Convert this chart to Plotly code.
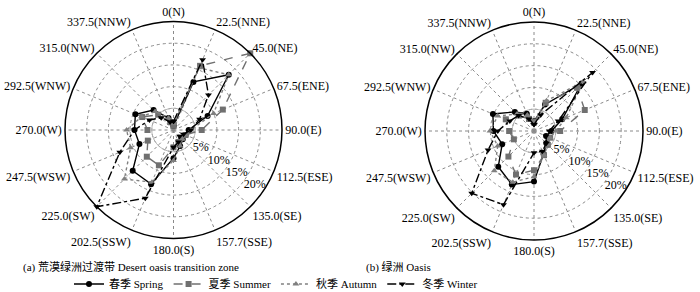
import plotly.graph_objects as go

directions = [0, 22.5, 45, 67.5, 90, 112.5, 135, 157.5, 180, 202.5, 225, 247.5, 270, 292.5, 315, 337.5]
dir_labels = ["0(N)", "22.5(NNE)", "45.0(NE)", "67.5(ENE)", "90.0(E)", "112.5(ESE)", "135.0(SE)",
              "157.7(SSE)", "180.0(S)", "202.5(SSW)", "225.0(SW)", "247.5(WSW)", "270.0(W)",
              "292.5(WNW)", "315.0(NW)", "337.5(NNW)"]
radial_ticks = [5, 10, 15, 20]
radial_labels = ["5%", "10%", "15%", "20%"]

# (a) Desert oasis transition zone
spring_a = [1, 12, 18, 8.5, 3.5, 3, 3, 4, 6.5, 13.5, 13.3, 8.5, 9, 9.5, 6.5, 3]
summer_a = [1, 16, 25, 12.3, 6.5, 3, 2.5, 3, 4, 8.8, 8.7, 6.4, 6, 7.8, 5, 2]
autumn_a = [1.5, 15.5, 18, 10, 4, 3, 3, 4, 7, 13, 16, 10.7, 10.8, 8, 6, 3]
winter_a = [2, 17.5, 11.4, 6.5, 4, 2.5, 2, 3, 4, 17, 25, 13.4, 9, 6, 4, 2]

# (b) Oasis
spring_b = [2.2, 6.6, 15.4, 7, 4, 3, 4, 5.7, 11.6, 13.3, 11.6, 7.9, 9.3, 10.2, 6.2, 4.3]
summer_b = [2, 7, 14, 12.6, 6, 4, 4.5, 6, 9, 10.8, 8.3, 5, 5.7, 7, 5, 3]
autumn_b = [2, 7.5, 16, 8, 5, 4, 4.5, 6, 10.5, 12.7, 12.9, 9, 10.1, 9, 5.5, 4]
winter_b = [1.5, 4, 19, 6, 3.5, 3, 4, 5, 5, 18.3, 20.2, 11.4, 8.3, 6, 5, 3]

series_names = ["春季 Spring", "夏季 Summer", "秋季 Autumn", "冬季 Winter"]
styles = [
    dict(color="#000000", dash="solid", symbol="circle"),
    dict(color="#707070", dash="dash", symbol="square"),
    dict(color="#808080", dash="dot", symbol="triangle-up"),
    dict(color="#000000", dash="dashdot", symbol="triangle-down"),
]

FONT = "Liberation Serif, Times New Roman, Noto Sans CJK SC, serif"

fig = go.Figure()

def close(v):
    return list(v) + [v[0]]

theta_closed = close(directions)
ring_theta = [i * 2.5 for i in range(145)]
label_theta = 124
label_shift = 2.6

for polar, data, show in [("polar", [spring_a, summer_a, autumn_a, winter_a], True),
                          ("polar2", [spring_b, summer_b, autumn_b, winter_b], False)]:
    # solid light ring at first radial tick
    fig.add_trace(go.Scatterpolar(r=[radial_ticks[0]] * len(ring_theta), theta=ring_theta,
                                  mode="lines", line=dict(color="#b0b0b0", width=1),
                                  hoverinfo="skip", showlegend=False, subplot=polar))
    for name, vals, st in zip(series_names, data, styles):
        fig.add_trace(go.Scatterpolar(
            r=close(vals), theta=theta_closed, mode="lines+markers", name=name,
            line=dict(color=st["color"], dash=st["dash"], width=1.4),
            marker=dict(symbol=st["symbol"], size=6, color=st["color"]),
            showlegend=show, subplot=polar))
    # radial tick labels
    fig.add_trace(go.Scatterpolar(
        r=[t + label_shift for t in radial_ticks], theta=[label_theta] * len(radial_ticks),
        mode="text", text=radial_labels, textposition="middle center",
        textfont=dict(family=FONT, size=12, color="black"),
        hoverinfo="skip", showlegend=False, subplot=polar))

def polar_layout(domx, domy):
    return dict(
        domain=dict(x=domx, y=domy),
        bgcolor="white",
        angularaxis=dict(rotation=90, direction="clockwise", tickmode="array",
                         tickvals=directions, ticktext=dir_labels,
                         showgrid=True, gridcolor="#8a8a8a", griddash="dot", gridwidth=1,
                         showline=True, linecolor="black", linewidth=1.5,
                         ticks="",
                         tickfont=dict(family=FONT, size=12, color="black")),
        radialaxis=dict(range=[0, 25], tickmode="array", tickvals=radial_ticks,
                        showticklabels=False, showline=False, ticks="",
                        showgrid=True, gridcolor="#8a8a8a", griddash="dot", gridwidth=1),
    )

fig.update_layout(
    width=700, height=292,
    margin=dict(l=0, r=0, t=0, b=0, autoexpand=False),
    paper_bgcolor="white", plot_bgcolor="white",
    polar=polar_layout([65 / 700, 282 / 700], [53.5 / 292, 270.5 / 292]),
    polar2=polar_layout([425 / 700, 643 / 700], [52 / 292, 270 / 292]),
    legend=dict(orientation="h", x=276 / 700, xanchor="center", y=(292 - 284) / 292, yanchor="middle",
                font=dict(family=FONT, size=11, color="black"),
                tracegroupgap=0, bgcolor="rgba(0,0,0,0)"),
    annotations=[
        dict(text="(a) 荒漠绿洲过渡带 Desert oasis transition zone", x=131 / 700, y=(292 - 267) / 292,
             xref="paper", yref="paper", xanchor="center", yanchor="middle", showarrow=False,
             font=dict(family=FONT, size=11, color="black")),
        dict(text="(b) 绿洲 Oasis", x=398 / 700, y=(292 - 267) / 292,
             xref="paper", yref="paper", xanchor="center", yanchor="middle", showarrow=False,
             font=dict(family=FONT, size=11, color="black")),
    ],
)

fig.write_html("out.html", config={"displayModeBar": False},
               post_script="document.body.style.margin='0';document.body.style.overflow='hidden';")
